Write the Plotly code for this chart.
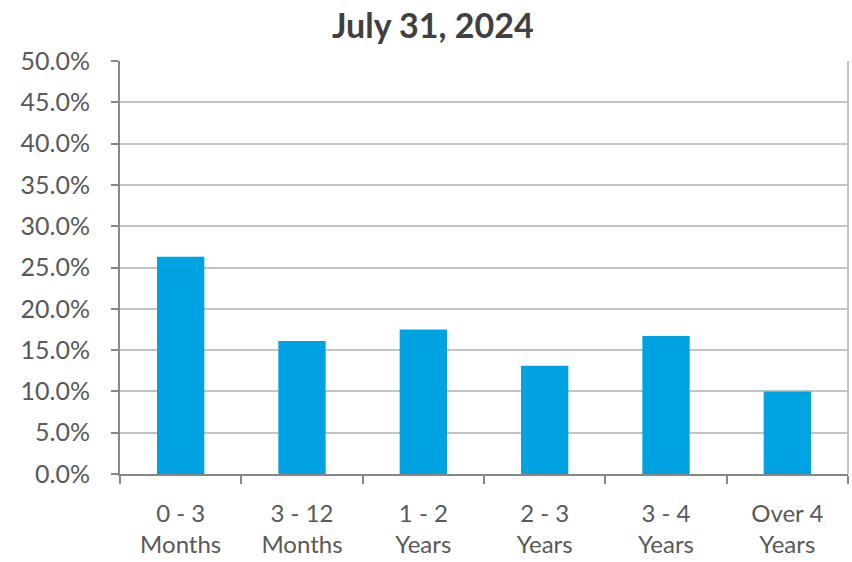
import plotly.graph_objects as go

categories = ["0 - 3<br>Months", "3 - 12<br>Months", "1 - 2<br>Years",
              "2 - 3<br>Years", "3 - 4<br>Years", "Over 4<br>Years"]
shares = [26.3, 16.1, 17.5, 13.1, 16.7, 10.0]
y_ticks = [0, 5, 10, 15, 20, 25, 30, 35, 40, 45, 50]
y_tick_text = [f"{v:.1f}%" for v in y_ticks]

fig = go.Figure(
    go.Bar(x=categories, y=shares, marker=dict(color="#00A3E2", line=dict(width=0)))
)

fig.update_layout(
    width=852, height=562,
    margin=dict(l=120, r=4, t=61, b=88),
    paper_bgcolor="white", plot_bgcolor="white",
    bargap=0.61,
    showlegend=False,
    title=dict(text="<b>July 31, 2024</b>", x=0.508, xanchor="center",
               y=0.954, yanchor="middle",
               font=dict(family="Lato", size=34, color="#404040")),
    font=dict(family="Lato", size=24, color="#595959"),
)

fig.update_yaxes(
    range=[0, 50], tickvals=y_ticks, ticktext=y_tick_text,
    tickfont=dict(size=25),
    showgrid=True, gridcolor="#c4c4c4", gridwidth=2,
    showline=True, linecolor="#878787", linewidth=2,
    ticks="outside", ticklen=7, tickcolor="#878787", tickwidth=2,
    ticklabelstandoff=16, zeroline=False,
)

fig.update_xaxes(
    tickfont=dict(size=24),
    showline=True, linecolor="#878787", linewidth=2,
    ticks="outside", tickson="boundaries", ticklen=8,
    tickcolor="#878787", tickwidth=2, showgrid=False,
    ticklabelstandoff=17,
)

# light border on the right side of the plotting area
fig.add_shape(type="line", xref="x domain", yref="y domain",
              x0=1, x1=1, y0=0, y1=1, line=dict(color="#c4c4c4", width=2))

fig.write_html("out.html")
